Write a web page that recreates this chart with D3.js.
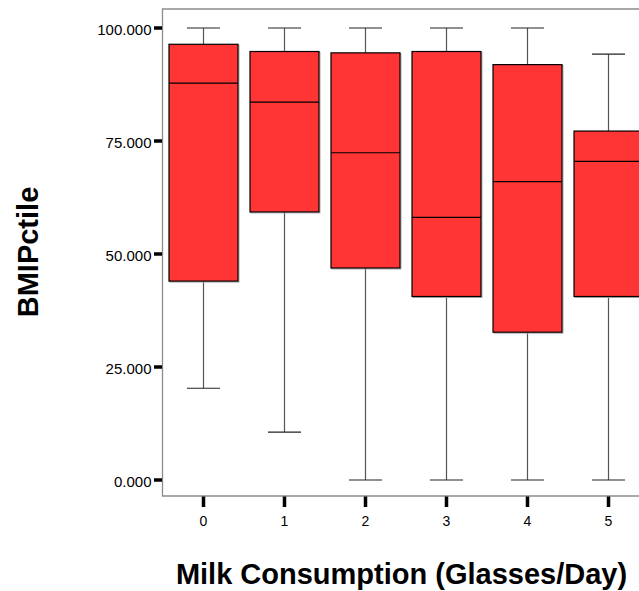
<!DOCTYPE html>
<html>
<head>
<meta charset="utf-8">
<script src="https://cdn.jsdelivr.net/npm/d3@7"></script>
<style>
  html, body { margin: 0; padding: 0; background: #fff; }
  svg { display: block; }
  text { font-family: "Liberation Sans", Arial, sans-serif; fill: #000; }
</style>
</head>
<body>
<svg id="chart" width="639" height="591"></svg>
<script>
// Milk consumption groups (glasses per day)
const categories = ["0", "1", "2", "3", "4", "5"];
// Five-number summaries of BMI percentile per group
const whiskerLow = [20.3, 10.6, 0, 0, 0, 0];
const q1         = [44.0, 59.3, 46.9, 40.6, 32.7, 40.6];
const median     = [87.8, 83.6, 72.4, 58.1, 66.0, 70.5];
const q3         = [96.4, 94.8, 94.5, 94.8, 91.9, 77.2];
const whiskerHigh= [100, 100, 100, 100, 100, 94.2];
const yTicks = [0, 25, 50, 75, 100];

const svg = d3.select("#chart");
const plot = { left: 162.5, top: 9, bottom: 496, right: 700 };

const x = d3.scalePoint().domain(categories).range([203.5, 608.5]);
const y = d3.scaleLinear().domain([0, 100]).range([480, 28]);
const boxW = 69, capW = 33;

// Frame: left axis, top border, bottom axis
svg.append("path")
  .attr("d", `M${plot.right},${plot.top}H${plot.left}V${plot.bottom}H${plot.right}`)
  .attr("stroke", "#8c8c8c").attr("stroke-width", 1.3).attr("fill", "none");

const rows = categories.map((c, i) => ({
  c, lo: whiskerLow[i], q1: q1[i], med: median[i], q3: q3[i], hi: whiskerHigh[i]
}));

const box = svg.append("g").selectAll("g.box").data(rows).join("g").attr("class", "box");

// whisker stems
box.append("line")
  .attr("x1", d => x(d.c)).attr("x2", d => x(d.c))
  .attr("y1", d => y(d.hi)).attr("y2", d => y(d.q3))
  .attr("stroke", "#555").attr("stroke-width", 1.2);
box.append("line")
  .attr("x1", d => x(d.c)).attr("x2", d => x(d.c))
  .attr("y1", d => y(d.q1)).attr("y2", d => y(d.lo))
  .attr("stroke", "#555").attr("stroke-width", 1.2);
// whisker caps
box.append("line")
  .attr("x1", d => x(d.c) - capW / 2).attr("x2", d => x(d.c) + capW / 2)
  .attr("y1", d => y(d.hi)).attr("y2", d => y(d.hi))
  .attr("stroke", "#222").attr("stroke-width", 1.2);
box.append("line")
  .attr("x1", d => x(d.c) - capW / 2).attr("x2", d => x(d.c) + capW / 2)
  .attr("y1", d => y(d.lo)).attr("y2", d => y(d.lo))
  .attr("stroke", "#222").attr("stroke-width", 1.2);
// soft shadow edge of each box
box.append("rect")
  .attr("x", d => x(d.c) - boxW / 2 + 1).attr("y", d => y(d.q3) + 1)
  .attr("width", boxW).attr("height", d => y(d.q1) - y(d.q3))
  .attr("fill", "none").attr("stroke", "#aaa").attr("stroke-width", 1);
// the box
box.append("rect")
  .attr("x", d => x(d.c) - boxW / 2).attr("y", d => y(d.q3))
  .attr("width", boxW).attr("height", d => y(d.q1) - y(d.q3))
  .attr("fill", "#ff3434").attr("stroke", "#000").attr("stroke-width", 1.2);
// median
box.append("line")
  .attr("x1", d => x(d.c) - boxW / 2).attr("x2", d => x(d.c) + boxW / 2)
  .attr("y1", d => y(d.med)).attr("y2", d => y(d.med))
  .attr("stroke", "#000").attr("stroke-width", 1.2);

// Y axis ticks and labels
const yAxis = svg.append("g");
yAxis.selectAll("line").data(yTicks).join("line")
  .attr("x1", 154).attr("x2", plot.left - 0.5)
  .attr("y1", d => y(d)).attr("y2", d => y(d))
  .attr("stroke", "#000").attr("stroke-width", 3.5);
yAxis.selectAll("text").data(yTicks).join("text")
  .attr("x", 151.5).attr("y", d => y(d) + 7.3)
  .attr("text-anchor", "end")
  .attr("font-size", 15)
  .text(d => d3.format(".3f")(d));

// X axis ticks and labels
const xAxis = svg.append("g");
xAxis.selectAll("line").data(categories).join("line")
  .attr("x1", d => x(d)).attr("x2", d => x(d))
  .attr("y1", plot.bottom + 0.5).attr("y2", 507)
  .attr("stroke", "#000").attr("stroke-width", 3.5);
xAxis.selectAll("text").data(categories).join("text")
  .attr("x", d => x(d)).attr("y", 526)
  .attr("text-anchor", "middle").attr("font-size", 14)
  .text(d => d);

// Axis titles
svg.append("text")
  .attr("x", 401.5).attr("y", 584)
  .attr("text-anchor", "middle").attr("font-size", 29).attr("font-weight", "bold")
  .text("Milk Consumption (Glasses/Day)");
svg.append("text")
  .attr("transform", "translate(38,252) rotate(-90)")
  .attr("text-anchor", "middle").attr("font-size", 29).attr("font-weight", "bold")
  .text("BMIPctile");
</script>
</body>
</html>
